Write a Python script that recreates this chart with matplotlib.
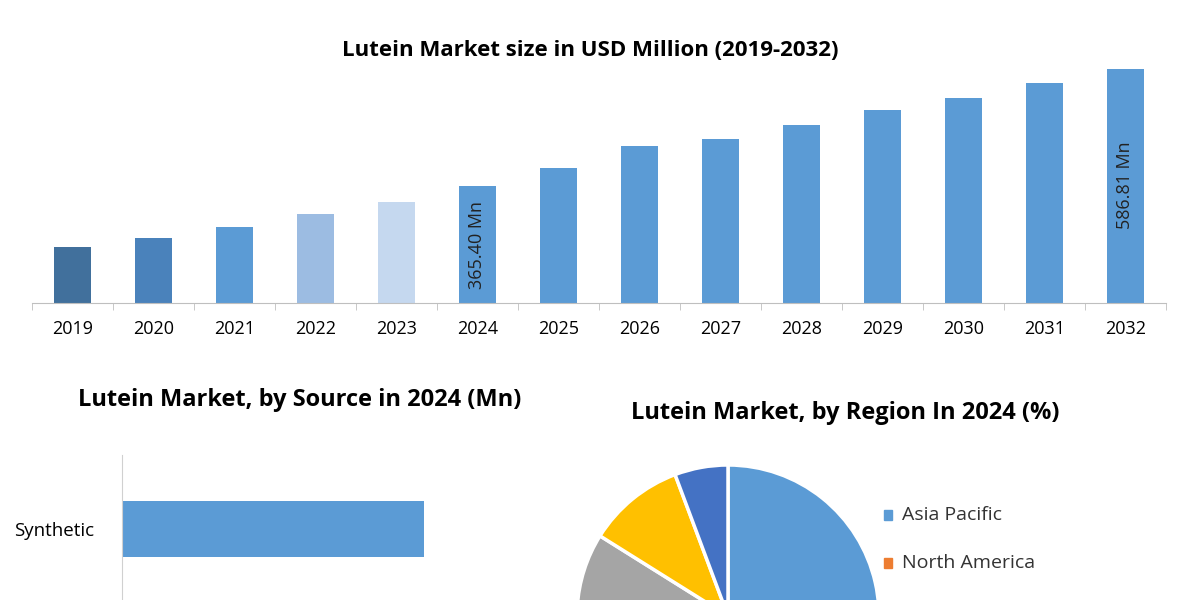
import matplotlib
matplotlib.use("Agg")
import matplotlib.pyplot as plt
import numpy as np

plt.rcParams['font.family'] = ['Open Sans', 'DejaVu Sans']

years = ["2019","2020","2021","2022","2023","2024","2025","2026","2027","2028","2029","2030","2031","2032"]
market = [250, 267, 288, 313, 335, 365.40, 400, 441, 454, 481, 509, 532, 560, 586.81]
bar_colors = ["#41709c", "#4a82bb", "#5b9bd5", "#9cbce2", "#c5d8ef"] + ["#5b9bd5"]*9

sources = ["", "Synthetic"]
source_vals = [460, 370]

regions = ["Asia Pacific", "North America"]
region_vals = [42.9, 25.0, 16.0, 10.4, 5.7]
region_colors = ["#5b9bd5", "#ed7d31", "#a5a5a5", "#ffc000", "#4472c4"]

fig = plt.figure(figsize=(12, 6), dpi=100)

# Top bar chart
ax = fig.add_axes([32/1200, 1-303/600, 1134/1200, 234/600])
x = np.arange(len(years))
ax.bar(x, market, width=0.46, color=bar_colors)
ax.set_ylim(144, 586.81)
ax.set_xlim(-0.5, len(years)-0.5)
ax.set_xticks(x)
ax.set_xticklabels(years, fontsize=13)
ax.set_xticks(np.arange(-0.5, len(years)), minor=True)
ax.tick_params(axis='x', which='major', length=0, pad=12)
ax.tick_params(axis='x', which='minor', length=5, color='#bfbfbf')
ax.set_yticks([])
for s in ['top', 'right', 'left']:
    ax.spines[s].set_visible(False)
ax.spines['bottom'].set_color('#bfbfbf')
ax.text(5, 170, "365.40 Mn", rotation=90, ha='center', va='bottom', fontsize=13, color='#222222')
ax.text(13, 367, "586.81 Mn", rotation=90, ha='center', va='center', fontsize=13, color='#222222')
fig.text(590/1200, 1-50/600, "Lutein Market size in USD Million (2019-2032)", ha='center', va='center', fontsize=16, fontweight='bold')

# Bottom-left horizontal bar
ax2 = fig.add_axes([122/1200, -0.25, 408/1200, 0.25 + 1-455/600])
ax2.barh([0, 1], source_vals, height=0.38, color="#5b9bd5")
ax2.set_ylim(-0.5, 1.5)
ax2.set_xlim(0, 500)
ax2.set_yticks([0, 1])
ax2.set_yticklabels(sources, fontsize=13.5)
ax2.tick_params(axis='y', length=0, pad=20)
ax2.set_xticks([])
for s in ['top', 'right', 'bottom']:
    ax2.spines[s].set_visible(False)
ax2.spines['left'].set_color('#d0d0d0')
fig.text(300/1200, 1-400/600, "Lutein Market, by Source in 2024 (Mn)", ha='center', va='center', fontsize=17, fontweight='bold')

# Pie
ax3 = fig.add_axes([(728-151)/1200, 1-(616+151)/600, 302/1200, 302/600])
ax3.pie(region_vals, colors=region_colors, startangle=90, counterclock=False,
        wedgeprops=dict(edgecolor='white', linewidth=2.5))
ax3.set_xlim(-1, 1); ax3.set_ylim(-1, 1)
ax3.set_aspect('equal')
fig.text(845/1200, 1-413/600, "Lutein Market, by Region In 2024 (%)", ha='center', va='center', fontsize=17, fontweight='bold')
for i, (r, c) in enumerate(zip(regions, region_colors)):
    yy = 515 + i*48
    fig.patches.append(plt.Rectangle((884/1200, 1-(yy+5)/600), 8/1200, 10/600, color=c, transform=fig.transFigure, figure=fig))
    fig.text(902/1200, 1-yy/600, r, ha='left', va='center', fontsize=14, color='#333333')

fig.savefig("out.png", dpi=100)
